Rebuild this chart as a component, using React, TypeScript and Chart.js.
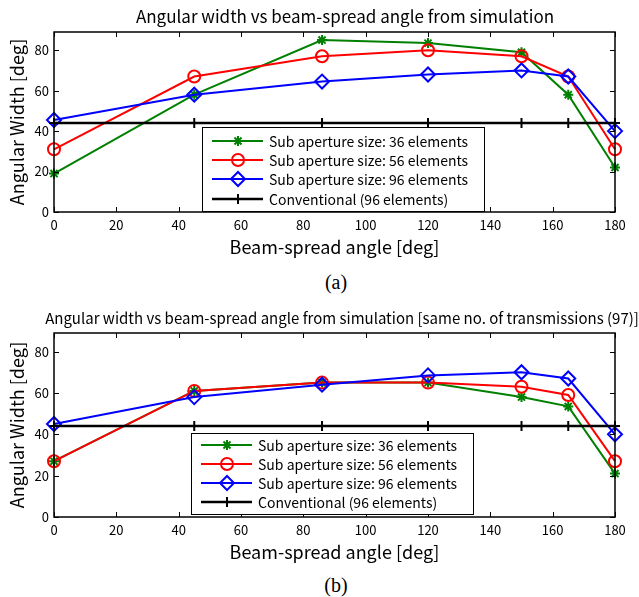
import React, { useEffect, useRef } from 'react';
import { Chart, registerables } from 'chart.js';
import { drawPoint } from 'chart.js/helpers';

Chart.register(...registerables);

const FONT = '"Noto Sans CJK JP", "Noto Sans", sans-serif';

// Beam-spread angles (deg)
const beamSpreadAngles = [0, 45, 86, 120, 150, 165, 180];

// (a) Angular width from simulation
const widthA36 = [19, 58, 85, 83.5, 79, 58, 22];
const widthA56 = [31, 67, 77, 80, 77, 67, 31];
const widthA96 = [45.5, 58, 64.5, 68, 70, 67, 40];
const conventionalA = [44, 44, 44, 44, 44, 44, 44];

// (b) same no. of transmissions (97)
const widthB36 = [27, 61, 65, 65, 58, 53.5, 21];
const widthB56 = [27, 61, 65, 65, 63, 59, 27];
const widthB96 = [45, 58, 64, 68.5, 70, 67, 40];
const conventionalB = [44, 44, 44, 44, 44, 44, 44];

const seriesLabels = [
  'Sub aperture size: 36 elements',
  'Sub aperture size: 56 elements',
  'Sub aperture size: 96 elements',
  'Conventional (96 elements)',
];
const titleA = 'Angular width vs beam-spread angle from simulation';
const titleB = 'Angular width vs beam-spread angle from simulation [same no. of transmissions (97)]';
const xTitle = 'Beam-spread angle [deg]';
const yTitle = 'Angular Width [deg]';
const X_MIN = 0, X_MAX = 180, X_STEP = 20;
const Y_MIN = 0, Y_MAX = 89, Y_STEP = 20;

const framePlugin = {
  id: 'frame',
  afterDatasetsDraw(chart: any, _args: any, opts: any) {
    const { ctx, chartArea: ca, scales } = chart;
    ctx.save();
    // inward ticks
    ctx.strokeStyle = '#000';
    ctx.lineWidth = 1;
    const tl = 5;
    scales.x.ticks.forEach((t: any) => {
      const px = Math.round(scales.x.getPixelForValue(t.value)) + 0.5;
      ctx.beginPath();
      ctx.moveTo(px, ca.top); ctx.lineTo(px, ca.top + tl);
      ctx.moveTo(px, ca.bottom); ctx.lineTo(px, ca.bottom - tl);
      ctx.stroke();
    });
    scales.y.ticks.forEach((t: any) => {
      const py = Math.round(scales.y.getPixelForValue(t.value)) + 0.5;
      ctx.beginPath();
      ctx.moveTo(ca.left, py); ctx.lineTo(ca.left + tl, py);
      ctx.moveTo(ca.right, py); ctx.lineTo(ca.right - tl, py);
      ctx.stroke();
    });
    ctx.lineWidth = 1.5;
    ctx.strokeRect(ca.left, ca.top, ca.width, ca.height);

    // title
    ctx.fillStyle = '#000';
    ctx.font = `${opts.titleSize}px ${FONT}`;
    ctx.textAlign = 'center';
    ctx.textBaseline = 'middle';
    ctx.fillText(opts.title, opts.titleX, opts.titleY);

    // legend
    const lg = opts.legend;
    const bx = ca.left + lg.dx, by = ca.top + lg.dy;
    ctx.fillStyle = '#fff';
    ctx.fillRect(bx, by, lg.w, lg.h);
    ctx.lineWidth = 1;
    ctx.strokeStyle = '#000';
    ctx.strokeRect(bx + 0.5, by + 0.5, lg.w, lg.h);
    chart.data.datasets.forEach((ds: any, i: number) => {
      const ry = by + lg.rows[i];
      ctx.strokeStyle = ds.borderColor;
      ctx.lineWidth = ds.borderWidth;
      ctx.beginPath();
      ctx.moveTo(bx + 10, ry); ctx.lineTo(bx + 61, ry);
      ctx.stroke();
      ctx.fillStyle = 'rgba(0,0,0,0)';
      ctx.lineWidth = ds.pointBorderWidth;
      drawPoint(ctx, { pointStyle: ds.pointStyle, radius: ds.pointRadius, rotation: 0, borderWidth: ds.pointBorderWidth } as any, bx + 36, ry);
      ctx.fillStyle = '#000';
      ctx.font = `14px ${FONT}`;
      ctx.textAlign = 'left';
      ctx.textBaseline = 'middle';
      ctx.fillText(ds.label, bx + 67, ry + 1);
    });
    ctx.restore();
  },
};

function makeDataset(label: string, data: number[], color: string, style: string, radius: number, order: number, width = 2) {
  return {
    label,
    data: beamSpreadAngles.map((x, i) => ({ x, y: data[i] })),
    borderColor: color,
    borderWidth: width,
    pointStyle: style,
    pointRadius: radius,
    pointBorderColor: color,
    pointBackgroundColor: 'rgba(0,0,0,0)',
    pointBorderWidth: 2,
    order,
    clip: false,
    tension: 0,
  };
}

function AngleChart(props: {
  top: number; height: number; title: string; titleSize: number; titleX: number; titleY: number;
  d36: number[]; d56: number[]; d96: number[]; conv: number[]; legend: any; plotTop: number;
}) {
  const ref = useRef<HTMLCanvasElement>(null);
  useEffect(() => {
    const xAxisH = 53;
    const chart = new Chart(ref.current as HTMLCanvasElement, {
      type: 'line',
      data: {
        datasets: [
          makeDataset(seriesLabels[0], props.d36, '#008000', 'star', 5, 4),
          makeDataset(seriesLabels[1], props.d56, '#ff0000', 'circle', 6, 3),
          makeDataset(seriesLabels[2], props.d96, '#0000ff', 'rectRot', 7, 2),
          makeDataset(seriesLabels[3], props.conv, '#000000', 'cross', 5, 1, 2.5),
        ] as any,
      },
      options: {
        responsive: false,
        animation: false,
        devicePixelRatio: 1,
        layout: { padding: { left: 0, right: 24, top: props.plotTop, bottom: 0 } },
        plugins: {
          legend: { display: false },
          tooltip: { enabled: false },
          title: { display: false },
          frame: { title: props.title, titleSize: props.titleSize, titleX: props.titleX, titleY: props.titleY, legend: props.legend },
        } as any,
        scales: {
          x: {
            type: 'linear',
            min: X_MIN, max: X_MAX,
            ticks: { stepSize: X_STEP, color: '#000', font: { family: FONT, size: 13 }, padding: 5, maxRotation: 0 },
            afterBuildTicks: (s: any) => { s.ticks = s.ticks.filter((t: any) => t.value % X_STEP === 0); },
            grid: { display: false, drawTicks: false },
            border: { display: false },
            title: { display: true, text: xTitle, color: '#000', font: { family: FONT, size: 18 }, padding: { top: 0, bottom: 7 } },
            afterFit: (s: any) => { s.height = xAxisH; },
          },
          y: {
            type: 'linear',
            min: Y_MIN, max: Y_MAX,
            ticks: { stepSize: Y_STEP, color: '#000', font: { family: FONT, size: 13 }, padding: 5 },
            afterBuildTicks: (s: any) => { s.ticks = s.ticks.filter((t: any) => t.value % Y_STEP === 0); },
            grid: { display: false, drawTicks: false },
            border: { display: false },
            title: { display: true, text: yTitle, color: '#000', font: { family: FONT, size: 18 }, padding: { top: 6, bottom: 0 } },
            afterFit: (s: any) => { s.width = 54; },
          },
        } as any,
      },
      plugins: [framePlugin as any],
    });
    return () => chart.destroy();
  }, []);
  return (
    <canvas
      ref={ref}
      width={639}
      height={props.height}
      style={{ position: 'absolute', left: 0, top: props.top, width: 639, height: props.height }}
    />
  );
}

const captionStyle: React.CSSProperties = {
  position: 'absolute',
  left: 296,
  width: 80,
  textAlign: 'center',
  fontFamily: '"Liberation Serif", "Times New Roman", serif',
  fontSize: 20,
  lineHeight: '24px',
  color: '#000',
};

export default function App() {
  return (
    <div style={{ position: 'fixed', left: 0, top: 0, width: 639, height: 597, background: '#fff', overflow: 'hidden' }}>
      <AngleChart
        top={0} height={265} title={titleA} titleSize={17} titleX={345} titleY={17}
        d36={widthA36} d56={widthA56} d96={widthA96} conv={conventionalA}
        legend={{ dx: 148, dy: 95, w: 282, h: 84, rows: [14, 33, 52, 72] }}
        plotTop={32}
      />
      <div style={{ ...captionStyle, top: 270 }}>(a)</div>
      <AngleChart
        top={300} height={270} title={titleB} titleSize={15} titleX={342} titleY={18}
        d36={widthB36} d56={widthB56} d96={widthB96} conv={conventionalB}
        legend={{ dx: 137, dy: 100, w: 282, h: 81, rows: [12, 31, 50, 69] }}
        plotTop={33}
      />
      <div style={{ ...captionStyle, top: 573 }}>(b)</div>
    </div>
  );
}
